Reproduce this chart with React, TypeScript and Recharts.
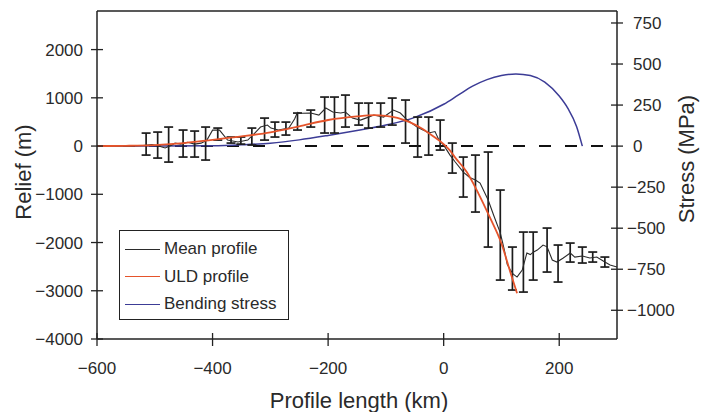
import React from 'react';
import { ComposedChart, Line, XAxis, YAxis, ReferenceLine, ErrorBar } from 'recharts';

const FONT = '"Liberation Sans", Arial, Helvetica, sans-serif';

// axis ticks
const xTicks = [-600, -400, -200, 0, 200];
const reliefTicks = [-4000, -3000, -2000, -1000, 0, 1000, 2000];
const stressTicks = [-1000, -750, -500, -250, 0, 250, 500, 750];

// Mean profile (km, m)
const meanKm = [-600, -570, -540, -520, -505, -495, -482, -470, -465, -455, -443, -431, -420, -410, -400, -388, -374, -356, -339, -327, -317, -305, -299, -286, -268, -258, -253, -245, -230, -216, -204, -192, -178, -170, -158, -144, -130, -121, -104, -87, -75, -63, -46, -35, -26, -15, -8, 0, 11, 20, 34, 45, 55, 63, 77, 87, 98, 105, 110, 115, 120, 127, 131, 136, 144, 150, 155, 162, 172, 179, 188, 196, 207, 219, 227, 240, 253, 265, 279, 288, 300];
const meanRelief = [0, 0, 0, 10, 30, 5, -40, 20, 60, 40, 80, 40, 60, 120, 330, 330, 124, 83, 124, 270, 394, 435, 373, 332, 373, 560, 700, 680, 684, 643, 788, 705, 684, 705, 580, 539, 600, 643, 601, 746, 684, 539, 394, 330, 270, 300, 120, 20, -187, -330, -540, -650, -705, -767, -1120, -1450, -1800, -2150, -2450, -2560, -2650, -2716, -2650, -2570, -2218, -2250, -2200, -2156, -2052, -2090, -2363, -2405, -2322, -2218, -2301, -2280, -2322, -2300, -2405, -2467, -2508];

// ULD profile (km, m)
const uldKm = [-600, -550, -500, -450, -400, -350, -300, -250, -200, -150, -120, -100, -80, -60, -40, -20, 0, 10, 20, 40, 60, 80, 100, 115, 127];
const uldRelief = [0, 5, 20, 60, 130, 200, 285, 410, 540, 615, 640, 625, 585, 500, 380, 220, 40, -80, -240, -540, -980, -1480, -2020, -2600, -3050];

// Bending stress (km, MPa)
const stressKm = [-600, -500, -400, -350, -300, -250, -200, -150, -100, -50, 0, 25, 50, 75, 100, 125, 150, 175, 200, 215, 230, 240];
const stressMPa = [0, 0, 2, 8, 18, 38, 65, 95, 128, 175, 255, 310, 365, 405, 430, 440, 430, 390, 305, 230, 120, 0];

// Error bars (km, upper m, lower m)
const barKm = [-515, -495, -476, -451, -431, -412, -391, -368, -351, -332, -310, -292, -273, -253, -230, -206, -189, -170, -147, -130, -109, -89, -66, -45, -26, -6, 15, 34, 55, 77, 98, 119, 138, 155, 179, 198, 219, 240, 258, 279];
const barHigh = [269, 290, 394, 332, 311, 394, 373, 187, 187, 373, 580, 497, 497, 684, 746, 1016, 1016, 1057, 891, 891, 891, 995, 954, 601, 601, 539, 62, -228, -187, -124, -912, -2094, -1783, -1783, -1700, -2052, -2011, -2094, -2197, -2301];
const barLow = [-187, -249, -332, -228, -228, -290, 124, 62, 41, 21, 124, 187, 228, 332, 394, 270, 270, 394, 435, 373, 394, 435, 62, -228, -187, -83, -560, -1057, -1368, -2094, -2778, -2985, -3027, -2778, -2612, -2819, -2405, -2425, -2405, -2508];

const meanRows = meanKm.map((km, i) => ({ km, relief: meanRelief[i] }));
const uldRows = uldKm.map((km, i) => ({ km, uld: uldRelief[i] }));
const stressRows = stressKm.map((km, i) => ({ km, stress: stressMPa[i] }));
const barRows = barKm.map((km, i) => ({
  km,
  mid: (barHigh[i] + barLow[i]) / 2,
  half: (barHigh[i] - barLow[i]) / 2,
}));

const MEAN_COLOR = '#2b2b2b';
const ULD_COLOR = '#e5542b';
const STRESS_COLOR = '#3c3c96';
const AXIS_COLOR = '#222';
const TEXT_COLOR = '#2a2a2a';

const fmt = (v: number) => (v < 0 ? '\u2212' + Math.abs(v) : String(v));

const LeftTick = (props: any) => {
  const { x, y, payload } = props;
  return (
    <g>
      <line x1={x - 6} x2={x + 6} y1={y} y2={y} stroke={AXIS_COLOR} strokeWidth={1.3} />
      <text x={x - 14} y={y} dy="0.36em" textAnchor="end" fontSize={17} fontFamily={FONT} fill={TEXT_COLOR}>
        {fmt(payload.value)}
      </text>
    </g>
  );
};

const RightTick = (props: any) => {
  const { x, y, payload } = props;
  const v = payload.value as number;
  return (
    <g>
      <line x1={x - 6} x2={x + 6} y1={y} y2={y} stroke={AXIS_COLOR} strokeWidth={1.3} />
      <text x={x + (v < 0 ? 10 : 16)} y={y} dy="0.36em" textAnchor="start" fontSize={17} fontFamily={FONT} fill={TEXT_COLOR}>
        {fmt(v)}
      </text>
    </g>
  );
};

const BottomTick = (props: any) => {
  const { x, y, payload } = props;
  return (
    <g>
      <line x1={x} x2={x} y1={y - 6} y2={y + 7} stroke={AXIS_COLOR} strokeWidth={1.3} />
      <text x={x} y={y + 35} textAnchor="middle" fontSize={17} fontFamily={FONT} fill={TEXT_COLOR}>
        {fmt(payload.value)}
      </text>
    </g>
  );
};

const legendItems = [
  { label: 'Mean profile', color: MEAN_COLOR },
  { label: 'ULD profile', color: ULD_COLOR },
  { label: 'Bending stress', color: STRESS_COLOR },
];

export default function App() {
  return (
    <div style={{ position: 'relative', width: 700, height: 404, background: '#fff' }}>
      <ComposedChart width={700} height={404} margin={{ top: 3, right: 0, bottom: 0, left: 0 }}>
        <XAxis
          dataKey="km"
          type="number"
          domain={[-600, 300]}
          ticks={xTicks}
          allowDataOverflow
          height={73}
          tickSize={0}
          tickMargin={0}
          tickLine={false}
          axisLine={{ stroke: AXIS_COLOR, strokeWidth: 1.5 }}
          tick={<BottomTick />}
        />
        <YAxis
          yAxisId="left"
          type="number"
          domain={[-4000, 2800]}
          ticks={reliefTicks}
          allowDataOverflow
          width={89}
          tickSize={0}
          tickMargin={0}
          tickLine={false}
          axisLine={{ stroke: AXIS_COLOR, strokeWidth: 1.5 }}
          tick={<LeftTick />}
        />
        <YAxis
          yAxisId="right"
          orientation="right"
          type="number"
          domain={[-1175, 823]}
          ticks={stressTicks}
          allowDataOverflow
          width={91}
          tickSize={0}
          tickMargin={0}
          tickLine={false}
          axisLine={{ stroke: AXIS_COLOR, strokeWidth: 1.5 }}
          tick={<RightTick />}
        />
        <ReferenceLine yAxisId="left" y={2800} stroke={AXIS_COLOR} strokeWidth={1.5} />
        <ReferenceLine yAxisId="left" y={0} stroke="#111" strokeWidth={2} strokeDasharray="12 14" />
        <Line
          yAxisId="right"
          data={stressRows}
          dataKey="stress"
          type="monotone"
          stroke={STRESS_COLOR}
          strokeWidth={1.5}
          dot={false}
          activeDot={false}
          isAnimationActive={false}
        />
        <Line
          yAxisId="left"
          data={barRows}
          dataKey="mid"
          stroke="none"
          dot={false}
          activeDot={false}
          isAnimationActive={false}
        >
          <ErrorBar dataKey="half" direction="y" width={4.5} stroke="#1c1c1c" strokeWidth={1.7} isAnimationActive={false} />
        </Line>
        <Line
          yAxisId="left"
          data={meanRows}
          dataKey="relief"
          type="linear"
          stroke={MEAN_COLOR}
          strokeWidth={1.1}
          dot={false}
          activeDot={false}
          isAnimationActive={false}
        />
        <Line
          yAxisId="left"
          data={uldRows}
          dataKey="uld"
          type="monotone"
          stroke={ULD_COLOR}
          strokeWidth={1.8}
          dot={false}
          activeDot={false}
          isAnimationActive={false}
        />
      </ComposedChart>

      <svg width={700} height={404} style={{ position: 'absolute', left: 0, top: 0, pointerEvents: 'none' }}>
        <text x={15} y={164} transform="rotate(-90 15 164)" textAnchor="middle" dominantBaseline="central" fontSize={22} fontFamily={FONT} fill={TEXT_COLOR}>
          Relief (m)
        </text>
        <text x={678} y={151} transform="rotate(-90 678 151)" textAnchor="middle" dominantBaseline="central" fontSize={22} fontFamily={FONT} fill={TEXT_COLOR}>
          Stress (MPa)
        </text>
        <text x={351} y={400} textAnchor="middle" fontSize={22} fontFamily={FONT} fill={TEXT_COLOR}>
          Profile length (km)
        </text>
      </svg>

      <div
        style={{
          position: 'absolute',
          left: 111,
          top: 222,
          width: 170,
          height: 90,
          border: '1.5px solid #222',
          boxSizing: 'border-box',
          background: '#fff',
          fontFamily: FONT,
        }}
      >
        {legendItems.map((it, i) => (
          <div key={it.label} style={{ position: 'absolute', left: 5, top: 6 + i * 27.5, height: 24, display: 'flex', alignItems: 'center' }}>
            <div style={{ width: 35, height: 0, borderTop: `1.5px solid ${it.color}` }} />
            <span style={{ marginLeft: 4, fontSize: 17, color: TEXT_COLOR, lineHeight: '24px', whiteSpace: 'nowrap' }}>{it.label}</span>
          </div>
        ))}
      </div>
    </div>
  );
}
